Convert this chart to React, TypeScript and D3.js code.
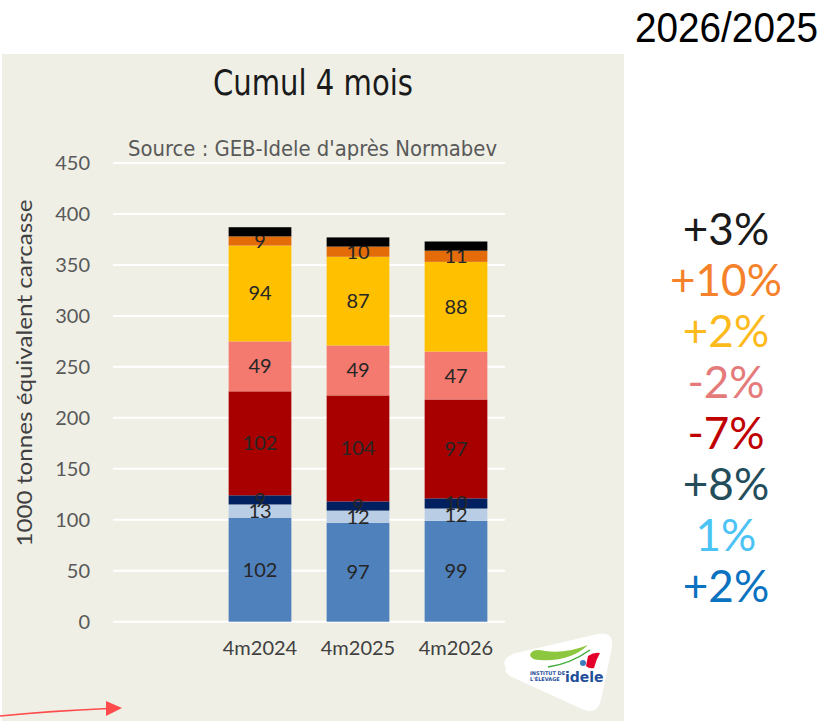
import React from "react";
import * as d3 from "d3";

const categories = ["4m2024", "4m2025", "4m2026"];
const seriesNames = ["S1", "S2", "S3", "S4", "S5", "S6", "S7", "S8"];
const s1 = [102, 97, 99];
const s2 = [13, 12, 12];
const s3 = [9, 9, 10];
const s4 = [102, 104, 97];
const s5 = [49, 49, 47];
const s6 = [94, 87, 88];
const s7 = [9, 10, 11];
const s8 = [9, 9, 9];
const showLabels = [true, true, true, true, true, true, true, false];
const yTicks = [0, 50, 100, 150, 200, 250, 300, 350, 400, 450];
const changes = ["+3%", "+10%", "+2%", "-2%", "-7%", "+8%", "1%", "+2%"];

const seriesColors = ["#4F81BD", "#B9CDE5", "#002060", "#A80000", "#F47A70", "#FFC000", "#E36C09", "#000000"];
const changeColors = ["#1A1A1A", "#F5822A", "#FDBA1C", "#E57A7A", "#C00000", "#244D5B", "#4CC3F5", "#0A72C0"];

const W = 820, H = 721;
const FONT = "Lato, 'Open Sans', sans-serif";
const COND = "'Liberation Sans Narrow', 'DejaVu Sans Condensed', Roboto, sans-serif";

export default function App() {
  const allSeries = [s1, s2, s3, s4, s5, s6, s7, s8];
  const rows = categories.map((c, i) => {
    const r: any = { cat: c };
    seriesNames.forEach((n, k) => (r[n] = allSeries[k][i]));
    return r;
  });
  const stacked = d3.stack().keys(seriesNames)(rows);

  const x = d3.scaleBand<string>().domain(["", ...categories]).range([113, 505]).paddingInner(0.36).paddingOuter(0.18);
  const y = d3.scaleLinear().domain([0, 450]).range([621.7, 163]);

  const rects = (layer: any, k: number) =>
    layer.map((d: any, i: number) => (
      <rect key={"r" + k + "-" + i} x={x(categories[i])} width={x.bandwidth()} y={y(d[1])} height={y(d[0]) - y(d[1])} fill={seriesColors[k]} />
    ));
  const labels = (layer: any, k: number) =>
    showLabels[k]
      ? layer.map((d: any, i: number) => (
          <text key={"l" + k + "-" + i} x={(x(categories[i]) as number) + x.bandwidth() / 2} y={(y(d[0]) + y(d[1])) / 2 + 7}
            textAnchor="middle" fontFamily={FONT} fontSize={20} fill="#262626">
            {allSeries[k][i]}
          </text>
        ))
      : null;

  return (
    <svg width={W} height={H} style={{ position: "absolute", left: 0, top: 0, background: "#fff" }}>
      <rect x={0} y={0} width={W} height={H} fill="#ffffff" />
      <rect x={2} y={54} width={622} height={667} fill="#EFEFE6" />
      <text x={313} y={95} textAnchor="middle" fontFamily={COND} fontSize={36} fill="#1A1A1A" textLength={200} lengthAdjust="spacingAndGlyphs">
        Cumul 4 mois
      </text>
      {yTicks.map((t) => (
        <g key={t}>
          <line x1={113} x2={505} y1={y(t)} y2={y(t)} stroke="#ffffff" strokeWidth={2} />
          <text x={90} y={y(t) + 7} textAnchor="end" fontFamily={FONT} fontSize={20} fill="#595959">{t}</text>
        </g>
      ))}
      <text x={128} y={156} fontFamily={COND} fontSize={22} fill="#595959" textLength={369} lengthAdjust="spacingAndGlyphs">
        Source : GEB-Idele d'après Normabev
      </text>
      <text transform="translate(32,373) rotate(-90)" textAnchor="middle" fontFamily={FONT} fontSize={22} fill="#404040" textLength={347} lengthAdjust="spacingAndGlyphs">
        1000 tonnes équivalent carcasse
      </text>
      {stacked.map((layer, k) => (k < 7 ? rects(layer, k) : null))}
      {stacked.map((layer, k) => (k < 7 ? labels(layer, k) : null))}
      {stacked.map((layer, k) => (k === 7 ? rects(layer, k) : null))}
      {categories.map((c) => (
        <text key={c} x={(x(c) as number) + x.bandwidth() / 2} y={655} textAnchor="middle" fontFamily={FONT} fontSize={20} fill="#404040">{c}</text>
      ))}
      <text x={818} y={42} textAnchor="end" fontFamily="'Liberation Sans', Arial, sans-serif" fontSize={42} fill="#000" textLength={183} lengthAdjust="spacingAndGlyphs">
        2026/2025
      </text>
      {changes.map((c, i) => (
        <text key={i} x={726} y={245 + 51 * i} textAnchor="middle" fontFamily={FONT} fontSize={44} fill={changeColors[i]}>{c}</text>
      ))}
      {/* logo */}
      <path d="M 506 668 Q 500 658 516 653 L 598 634 Q 614 631 612 647 L 601 700 Q 597 716 582 709 L 514 678 Q 503 673 506 668 Z" fill="#ffffff" />
      <path d="M 530 655 Q 532 648 545 651 Q 565 654 588 645 Q 570 662 540 660 Q 531 660 530 655 Z" fill="#8DC63F" />
      <path d="M 548 667 Q 570 664 590 650" stroke="#3AAA35" strokeWidth={1.5} fill="none" />
      <path d="M 588 656 Q 594 652 600 653 Q 596 660 594 668 Q 589 669 586 666 Z" fill="#E4002B" />
      <circle cx={583} cy={663} r={3} fill="#3E7CC0" />
      <text x={565} y={682} fontFamily="'DejaVu Sans', sans-serif" fontWeight="bold" fontSize={14} fill="#1F4E9A">idele</text>
      <text x={530} y={675} fontFamily="'DejaVu Sans', sans-serif" fontWeight="bold" fontSize={5} fill="#1F4E9A">INSTITUT DE</text>
      <text x={530} y={681} fontFamily="'DejaVu Sans', sans-serif" fontWeight="bold" fontSize={5} fill="#1F4E9A">L'ÉLEVAGE</text>
      {/* arrow */}
      <path d="M 0 716 Q 50 711 108 708.5" stroke="#FF4B4B" strokeWidth={1.5} fill="none" />
      <polygon points="106,701 122,708 106,716" fill="#FF4B4B" />
    </svg>
  );
}
